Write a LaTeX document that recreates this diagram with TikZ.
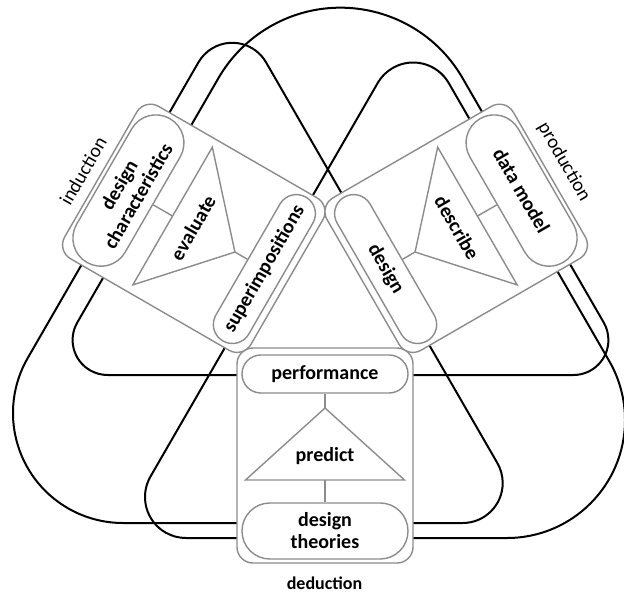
\documentclass[tikz,border=0pt]{standalone}
\usepackage{fontspec}
\setmainfont{Carlito}
\usetikzlibrary{calc}
\definecolor{boxgray}{RGB}{140,140,140}
\newcommand\cycbox[7]{%
\begin{scope}[shift={#2}, rotate=#3]
 \node[gbox, rotate=#4] (#1-box) at (0,0) {};
 \node[pill=18.9bp, minimum height=38bp, rotate=#4] (#1-top) at (0,81.5) {#5};
 \node[pill=27.9bp, minimum height=56bp, rotate=#4] (#1-bot) at (0,-75.5) {#7};
 \draw[gline] (0,47.5) coordinate (#1-apex) -- (79.5,-24.5) coordinate (#1-br) -- (-79.5,-24.5) coordinate (#1-bl) -- cycle;
 \coordinate (#1-base) at (0,-24.5);
 \node[txt, rotate=#4] (#1-mid) at (0,-1) {#6};
 \draw[gline] (#1-top) -- (#1-apex);
 \draw[gline] (#1-base) -- (#1-bot);
\end{scope}}
\begin{document}
\begin{tikzpicture}[x=1bp,y=1bp,
  blk/.style={line width=2bp, draw=black},
  gline/.style={line width=1.4bp, draw=boxgray},
  gbox/.style={rectangle, draw=boxgray, line width=1.4bp, fill=white, rounded corners=16bp, minimum width=176bp, minimum height=215bp, inner sep=0pt},
  pill/.style={rectangle, draw=boxgray, line width=1.4bp, fill=white, rounded corners=#1, inner sep=0pt, minimum width=166bp, align=center, font=\bfseries\fontsize{20bp}{22bp}\selectfont},
  txt/.style={inner sep=0pt, font=\bfseries\fontsize{20bp}{22bp}\selectfont},
  lbl/.style={inner sep=0pt, font=\fontsize{19.5bp}{21bp}\selectfont}]
\useasboundingbox (0,0) rectangle (624,-593);
% centres of the corner arcs of the three rounded triangles
\coordinate (t1b) at (107.6,-340);
\coordinate (t1c) at (573.4,-340);
\coordinate (t1a) at (340.5,-148.7);
\coordinate (t2b) at (123,-413);
\coordinate (t2c) at (462.7,-483);
\coordinate (t2a) at (232.25,-81.8);
\coordinate (t3b) at (186,-497);
\coordinate (t3c) at (507,-420);
\coordinate (t3a) at (413.2,-103.5);
% triangle with the large apex
\draw[blk] ($(t1b)+(270:35bp)$) -- ($(t1c)+(270:35bp)$) arc[start angle=-90,end angle=30,radius=35bp]
  -- ($(t1a)+(30:141bp)$) arc[start angle=30,end angle=150,radius=141bp]
  -- ($(t1b)+(150:35bp)$) arc[start angle=150,end angle=270,radius=35bp] -- cycle;
% triangle with the large lower-left corner
\draw[blk] ($(t2b)+(270:110bp)$) -- ($(t2c)+(270:40bp)$) arc[start angle=-90,end angle=30,radius=40bp]
  -- ($(t2a)+(30:39bp)$) arc[start angle=30,end angle=150,radius=39bp]
  -- ($(t2b)+(150:110bp)$) arc[start angle=150,end angle=270,radius=110bp] -- cycle;
% triangle with the large lower-right corner
\draw[blk] ($(t3b)+(270:41bp)$) -- ($(t3c)+(270:118bp)$) arc[start angle=-90,end angle=30,radius=118bp]
  -- ($(t3a)+(30:41bp)$) arc[start angle=30,end angle=150,radius=41bp]
  -- ($(t3b)+(150:41bp)$) arc[start angle=150,end angle=270,radius=41bp] -- cycle;
% the three boxes
\cycbox{ded}{(325,-455.5)}{0}{0}{performance}{predict}{design\\theories}
\cycbox{ind}{(193.8,-228.3)}{-120}{60}{superimpositions}{evaluate}{design\\characteristics}
\cycbox{pro}{(456.2,-228.3)}{120}{-60}{design}{describe}{data model}
% labels
\node[lbl, rotate=60] (linduction) at (83,-171) {induction};
\node[lbl, rotate=-60] (lproduction) at (564,-162) {production};
\node[lbl, font=\bfseries\fontsize{18bp}{20bp}\selectfont] (ldeduction) at (324.5,-583) {deduction};
\end{tikzpicture}
\end{document}
